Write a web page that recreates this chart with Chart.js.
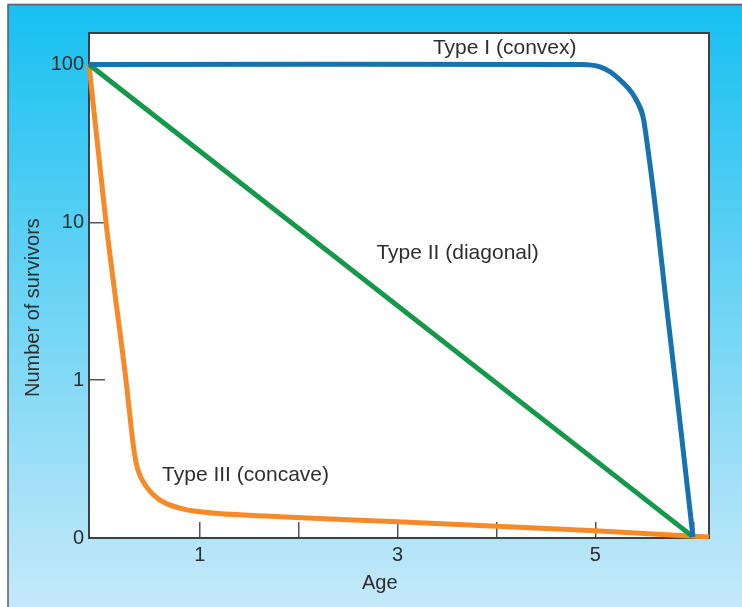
<!DOCTYPE html>
<html>
<head>
<meta charset="utf-8">
<title>Survivorship curves</title>
<script src="https://cdn.jsdelivr.net/npm/chart.js@4"></script>
<style>
  html, body { margin: 0; padding: 0; background: #fff; }
  canvas { display: block; }
</style>
</head>
<body>
<canvas id="survivorship-chart" width="742" height="607"></canvas>
<script>
// Age axis ticks (only the odd ones carry a label)
const ageTicks = [1, 2, 3, 4, 5, 6];
const ageTickLabels = ['1', '', '3', '', '5', ''];

// Survivor axis: every step up means ten times more survivors, 0 sits at the bottom
const survivorTicks = [0, 1, 2, 3];
const survivorTickLabels = ['0', '1', '10', '100'];

// Axis titles
const ageTitle = 'Age';
const survivorTitle = 'Number of survivors';

// Curve names, in dataset order
const curveNames = ['Type I (convex)', 'Type II (diagonal)', 'Type III (concave)'];

// Type I (convex), in axis steps
const typeOneAge = [-0.12, 4.795, 5.048, 5.25, 5.402, 5.493, 5.75, 5.988];
const typeOneLevel = [3, 3, 2.985, 2.903, 2.79, 2.638, 1.313, 0.006];

// Type II (diagonal)
const typeTwoAge = [-0.12, 5.98];
const typeTwoLevel = [3, 0.012];

// Type III (concave)
const typeThreeAge = [-0.12, 0.052, 0.254, 0.335, 0.376, 0.464, 0.598, 0.80, 1.003, 1.812, 3.0, 5.0, 6.15];
const typeThreeLevel = [3, 2.0, 1.0, 0.555, 0.429, 0.322, 0.24, 0.189, 0.166, 0.135, 0.103, 0.046, 0.006];

document.addEventListener('DOMContentLoaded', function() {
    const canvas = document.getElementById('survivorship-chart');
    const fontFamily = '"Liberation Sans", Arial, Helvetica, sans-serif';
    const textColor = '#2e2e2e';

    Chart.defaults.font.family = fontFamily;
    Chart.defaults.color = textColor;

    // Where the curve names go, in data units
    const labelSpots = [
        { x: 4.084, y: 3.103 },
        { x: 3.607, y: 1.807 },
        { x: 1.463, y: 0.40 }
    ];

    function toPoints(ages, levels) {
        return ages.map(function(age, i) {
            return { x: age, y: levels[i] };
        });
    }

    // Background gradient, white plot box, frame, axis titles and curve names
    const decorPlugin = {
        id: 'decor',
        beforeDraw: function(chart) {
            const ctx = chart.ctx;
            const area = chart.chartArea;
            ctx.save();
            ctx.fillStyle = '#ffffff';
            ctx.fillRect(0, 0, chart.width, chart.height);

            const grad = ctx.createLinearGradient(0, 5, 0, chart.height);
            grad.addColorStop(0, '#16c0f1');
            grad.addColorStop(1, '#c6e9f9');
            ctx.fillStyle = grad;
            ctx.fillRect(8, 4.5, chart.width - 8, chart.height - 4.5);

            ctx.strokeStyle = '#5c5c5c';
            ctx.lineWidth = 1.5;
            ctx.beginPath();
            ctx.moveTo(8, chart.height);
            ctx.lineTo(8, 4.5);
            ctx.lineTo(chart.width, 4.5);
            ctx.stroke();

            ctx.fillStyle = '#ffffff';
            ctx.fillRect(area.left, area.top, area.right - area.left, area.bottom - area.top);
            ctx.restore();
        },
        beforeDatasetsDraw: function(chart) {
            const ctx = chart.ctx;
            const area = chart.chartArea;
            ctx.save();
            ctx.strokeStyle = '#404040';
            ctx.lineWidth = 2;
            ctx.strokeRect(area.left, area.top, area.right - area.left, area.bottom - area.top);
            ctx.restore();
        },
        afterDatasetsDraw: function(chart) {
            const ctx = chart.ctx;
            const xScale = chart.scales.x;
            const yScale = chart.scales.y;
            ctx.save();
            ctx.fillStyle = textColor;
            ctx.textAlign = 'center';
            ctx.textBaseline = 'middle';

            ctx.font = '21px ' + fontFamily;
            curveNames.forEach(function(name, i) {
                ctx.fillText(name, xScale.getPixelForValue(labelSpots[i].x), yScale.getPixelForValue(labelSpots[i].y));
            });

            // axis titles sit a little off-centre in the original
            ctx.font = '20px ' + fontFamily;
            ctx.fillText(ageTitle, xScale.getPixelForValue(2.82), 583);
            ctx.translate(33, yScale.getPixelForValue(1.46));
            ctx.rotate(-Math.PI / 2);
            ctx.fillText(survivorTitle, 0, 0);
            ctx.restore();
        }
    };

    const lineStyle = {
        borderWidth: 5,
        pointRadius: 0,
        fill: false,
        clip: false
    };

    new Chart(canvas, {
        type: 'line',
        data: {
            datasets: [
                Object.assign({ label: curveNames[0], data: toPoints(typeOneAge, typeOneLevel), borderColor: '#1773b0', tension: 0.4 }, lineStyle),
                Object.assign({ label: curveNames[1], data: toPoints(typeTwoAge, typeTwoLevel), borderColor: '#16984a' }, lineStyle),
                Object.assign({ label: curveNames[2], data: toPoints(typeThreeAge, typeThreeLevel), borderColor: '#f68a28', cubicInterpolationMode: 'monotone' }, lineStyle)
            ]
        },
        options: {
            responsive: false,
            animation: false,
            devicePixelRatio: 1,
            layout: {
                padding: { left: 0, top: 31, right: 33, bottom: 0 }
            },
            plugins: {
                legend: { display: false },
                tooltip: { enabled: false }
            },
            scales: {
                x: {
                    type: 'linear',
                    min: -0.12,
                    max: 6.15,
                    afterFit: function(scale) { scale.height = 69; },
                    afterBuildTicks: function(scale) {
                        scale.ticks = ageTicks.map(function(v) { return { value: v }; });
                    },
                    border: { display: false },
                    grid: {
                        drawOnChartArea: false,
                        tickLength: -16,
                        color: '#555555',
                        lineWidth: 1.5
                    },
                    ticks: {
                        padding: 21,
                        font: { size: 20 },
                        color: textColor,
                        maxRotation: 0,
                        autoSkip: false,
                        callback: function(value, index) {
                            return ageTickLabels[index];
                        }
                    },
                    title: { display: false }
                },
                y: {
                    type: 'linear',
                    min: 0,
                    max: 3.2,
                    afterFit: function(scale) { scale.width = 89; },
                    afterBuildTicks: function(scale) {
                        scale.ticks = survivorTicks.map(function(v) { return { value: v }; });
                    },
                    border: { display: false },
                    grid: {
                        drawOnChartArea: false,
                        tickLength: -16,
                        color: '#555555',
                        lineWidth: 1.5
                    },
                    ticks: {
                        padding: 21,
                        font: { size: 20 },
                        color: textColor,
                        autoSkip: false,
                        callback: function(value, index) {
                            return survivorTickLabels[index];
                        }
                    },
                    title: { display: false }
                }
            }
        },
        plugins: [decorPlugin]
    });
});
</script>
</body>
</html>
